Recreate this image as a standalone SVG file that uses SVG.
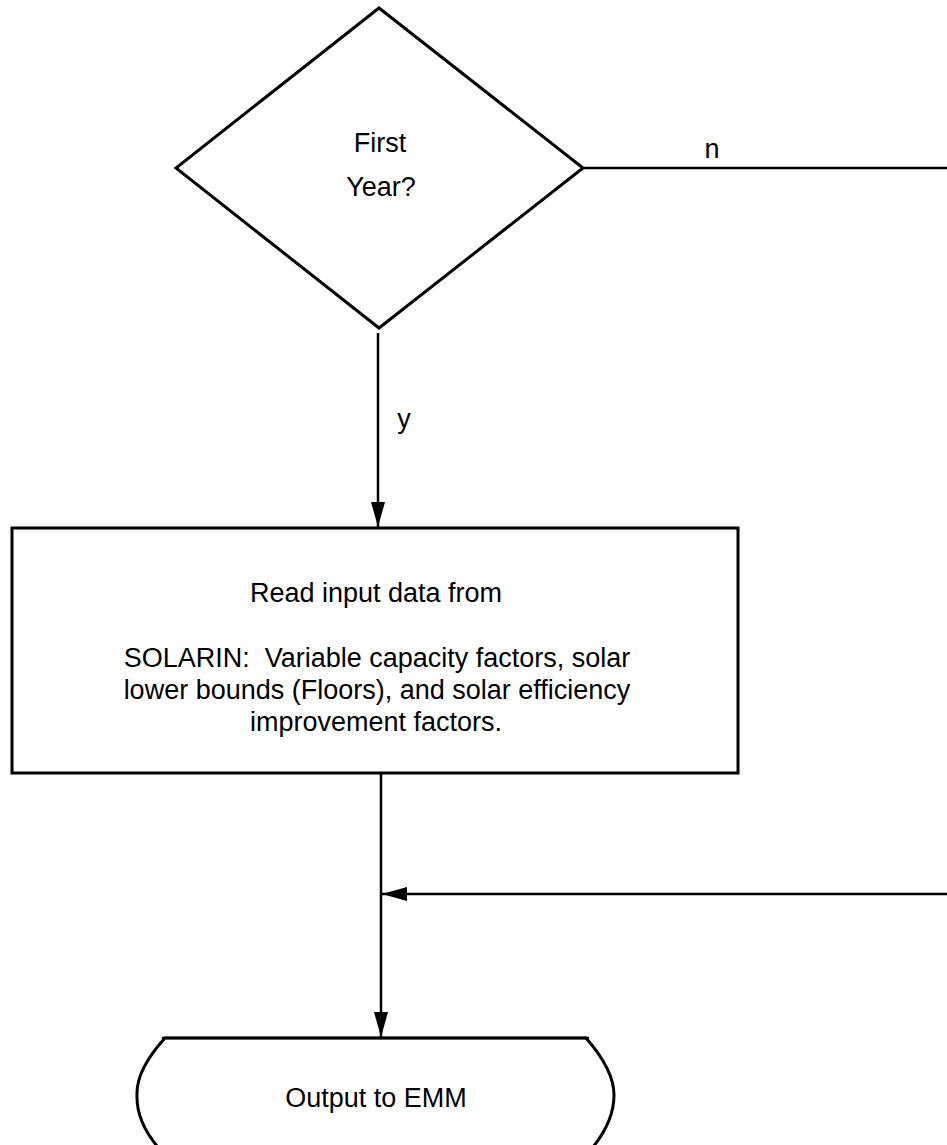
<svg xmlns="http://www.w3.org/2000/svg" width="947" height="1145" viewBox="0 0 947 1145">
<style>
.s{fill:#fff;stroke:#000;stroke-width:3}
.c{fill:none;stroke:#000;stroke-width:2.5}
text{font-family:"Liberation Sans",Arial,sans-serif;font-size:27px;fill:#000}
.m{text-anchor:middle}
</style>
<defs>
<marker id="ah" viewBox="0 0 25 14" refX="25" refY="7" markerWidth="25" markerHeight="14" markerUnits="userSpaceOnUse" orient="auto">
<path d="M0,0 L25,7 L0,14 Z" fill="#000"/>
</marker>
</defs>
<g id="connectors">
<path class="c" d="M583,168 H947"/>
<path class="c" d="M378,333 V527" marker-end="url(#ah)"/>
<path class="c" d="M381,773 V1037" marker-end="url(#ah)"/>
<path class="c" d="M947,894 H382" marker-end="url(#ah)"/>
<text x="712" y="158" class="m">n</text>
<text x="404" y="428" class="m">y</text>
</g>
<g id="decision">
<polygon class="s" points="379,8 583,168 379,328 176,168"/>
<text x="380" y="152" class="m">First</text>
<text x="381" y="196" class="m">Year?</text>
</g>
<g id="read">
<rect class="s" x="12" y="528" width="726" height="245"/>
<text x="376" y="602" class="m">Read input data from</text>
<text x="377" y="667" class="m" xml:space="preserve">SOLARIN:  Variable capacity factors, solar</text>
<text x="377" y="699" class="m">lower bounds (Floors), and solar efficiency</text>
<text x="376" y="731" class="m">improvement factors.</text>
</g>
<g id="output">
<path class="s" d="M165,1038 Q136,1070 137,1095 Q136,1125 165,1155 L586,1155 Q614,1125 614,1095 Q614,1070 586,1038 Z"/>
<path class="c" d="M162,1038 H589"/>
<text x="376" y="1107" class="m">Output to EMM</text>
</g>
</svg>
